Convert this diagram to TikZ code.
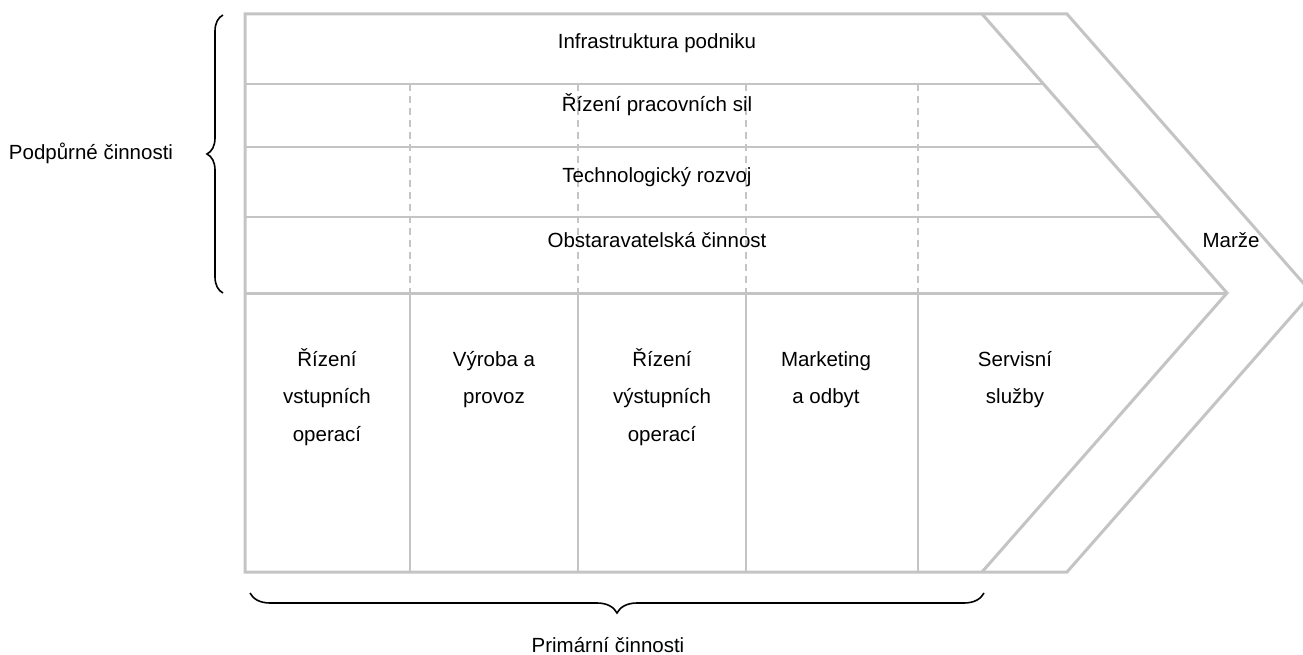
\documentclass[tikz,border=0pt]{standalone}
\usepackage{fontspec}
\setmainfont{Liberation Sans}
\usetikzlibrary{decorations.pathreplacing,calc}
\definecolor{vcline}{HTML}{C4C4C4}
\tikzset{
  frame/.style={draw=vcline, line width=3pt, line join=miter},
  sep/.style={draw=vcline, line width=1.8pt},
  sepdash/.style={sep, dash pattern=on 7pt off 5pt},
  lbl/.style={font=\fontsize{20.5}{37.5}\selectfont, align=center, inner sep=0pt, anchor=base},
  brc/.style={decorate, decoration={brace, amplitude=#1}, line width=1.6pt},
}

\begin{document}
\begin{tikzpicture}[x=1pt, y=-1pt]
  \useasboundingbox (0,0) rectangle (1303,655);
  \clip (0,0) rectangle (1303,655);
  % corners of the chain
  \coordinate (tl) at (245,14);
  \coordinate (bl) at (245,572);
  \coordinate (ml) at (245,293);
  \coordinate (it) at (982,14);
  \coordinate (ip) at (1227,293);
  \coordinate (ib) at (982,572);
  \coordinate (ot) at (1067,14);
  \coordinate (op) at (1312,293);
  \coordinate (ob) at (1067,572);
  % support rows
  \foreach \y/\n in {84/ra,147/rb,217/rc} {
    \coordinate (\n l) at (245,\y);
    \coordinate (\n r) at (1300,\y);
    \draw[sep] (\n l) -- (intersection of \n l--\n r and it--ip);
  }
  % columns
  \foreach \x/\n in {410/ca,578/cb,746/cc,918/cd} {
    \coordinate (\n t) at (\x,84);
    \coordinate (\n m) at (\x,293);
    \coordinate (\n b) at (\x,572);
    \draw[sepdash] (\n t) -- (\n m);
    \draw[sep] (\n m) -- (\n b);
  }
  \draw[frame] (ml) -- (ip);
  \draw[frame] (bl) -- (tl) -- (ot) -- (op) -- (ob) -- cycle;
  \draw[frame] (it) -- (ip) -- (ib);

  % labels (base = last line)
  \node[lbl] (infra) at (657,49) {Infrastruktura podniku};
  \node[lbl] (hr) at (657,112) {Řízení pracovních sil};
  \node[lbl] (tech) at (657,183) {Technologický rozvoj};
  \node[lbl] (proc) at (657,247) {Obstaravatelská činnost};
  \node[lbl] (marze) at (1231,247) {Marže};
  \node[lbl] (inlog) at (327,441) {Řízení\\vstupních\\operací};
  \node[lbl] (oper) at (494,403.5) {Výroba a\\provoz};
  \node[lbl] (outlog) at (662,441) {Řízení\\výstupních\\operací};
  \node[lbl] (mark) at (826,403.5) {Marketing\\a odbyt};
  \node[lbl] (serv) at (1015,403.5) {Servisní\\služby};
  \node[lbl] (supp) at (91,160) {Podpůrné činnosti};
  \node[lbl] (prim) at (608,652) {Primární činnosti};

  % braces
  \coordinate (sa) at (223,293);
  \coordinate (sb) at (223,15);
  \coordinate (pa) at (984,593);
  \coordinate (pb) at (250,593);
  \draw[brc=16pt] (sa) -- (sb);
  \draw[brc=20pt] (pa) -- (pb);
\end{tikzpicture}
\end{document}
